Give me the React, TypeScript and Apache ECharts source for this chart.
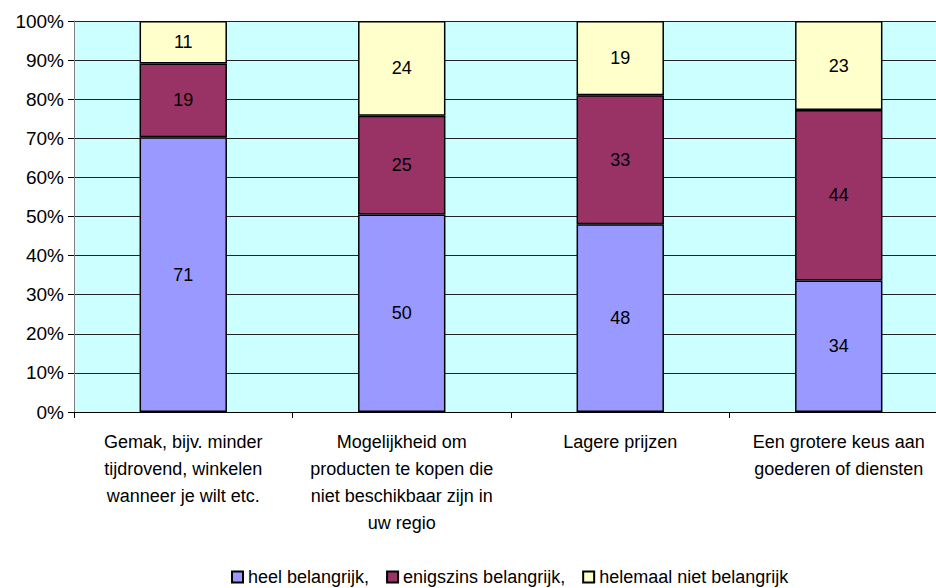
import React, { useEffect, useRef } from "react";
import * as echarts from "echarts";

const categories = [
  "Gemak, bijv. minder\ntijdrovend, winkelen\nwanneer je wilt etc.",
  "Mogelijkheid om\nproducten te kopen die\nniet beschikbaar zijn in\nuw regio",
  "Lagere prijzen",
  "Een grotere keus aan\ngoederen of diensten",
];
const seriesNames = ["heel belangrijk,", "enigszins belangrijk,", "helemaal niet belangrijk"];
const heel = [71, 50, 48, 34];
const enigszins = [19, 25, 33, 44];
const helemaal = [11, 24, 19, 23];
const colors = ["#9999FF", "#993366", "#FFFFCC"];
const yTicks = [0, 10, 20, 30, 40, 50, 60, 70, 80, 90, 100];

export default function App() {
  const ref = useRef<HTMLDivElement>(null);
  useEffect(() => {
    if (!ref.current) return;
    const chart = echarts.init(ref.current, null, { renderer: "svg" });
    const raw = [heel, enigszins, helemaal];
    const totals = categories.map((_, i) => heel[i] + enigszins[i] + helemaal[i]);
    const font = "'Liberation Sans', Arial, sans-serif";
    chart.setOption({
      animation: false,
      textStyle: { fontFamily: font },
      legend: {
        top: 563,
        left: 226,
        itemWidth: 11,
        itemHeight: 11,
        itemGap: 17,
        icon: "rect",
        textStyle: { fontSize: 18, color: "#000", fontFamily: font },
        data: seriesNames,
      },
      grid: { left: 74, right: 0, top: 21, bottom: 176, containLabel: false },
      xAxis: {
        type: "category",
        data: categories,
        axisLine: { lineStyle: { color: "#000" } },
        axisTick: { show: true, length: 6, lineStyle: { color: "#000" } },
        axisLabel: {
          interval: 0,
          color: "#000",
          fontSize: 18,
          lineHeight: 27,
          margin: 16,
          fontFamily: font,
        },
      },
      yAxis: {
        type: "value",
        min: 0,
        max: 100,
        interval: 10,
        axisLine: { show: true, lineStyle: { color: "#808080" } },
        axisTick: { show: true, length: 6, lineStyle: { color: "#000" } },
        axisLabel: {
          color: "#000",
          fontSize: 19,
          margin: 10,
          fontFamily: font,
          formatter: (v: number) => (yTicks.includes(v) ? v + "%" : ""),
        },
        splitLine: { show: true, lineStyle: { color: "#222", width: 1 } },
        splitArea: { show: true, areaStyle: { color: ["#CCFFFF", "#CCFFFF"] } },
      },
      series: seriesNames.map((name, s) => ({
        name,
        type: "bar",
        stack: "total",
        barWidth: "40%",
        data: raw[s].map((v, i) => ({ value: (v / totals[i]) * 100, raw: v })),
        itemStyle: { color: colors[s], borderColor: "#000", borderWidth: 1.5 },
        label: {
          show: true,
          position: "inside",
          color: "#000",
          fontSize: 18,
          fontFamily: font,
          formatter: (p: any) => String(p.data.raw),
        },
      })),
    });
    return () => chart.dispose();
  }, []);
  return (
    <div style={{ position: "fixed", left: 0, top: 0, width: 936, height: 588, overflow: "hidden", background: "#fff" }}>
      <div ref={ref} style={{ width: 948, height: 588 }} />
    </div>
  );
}
